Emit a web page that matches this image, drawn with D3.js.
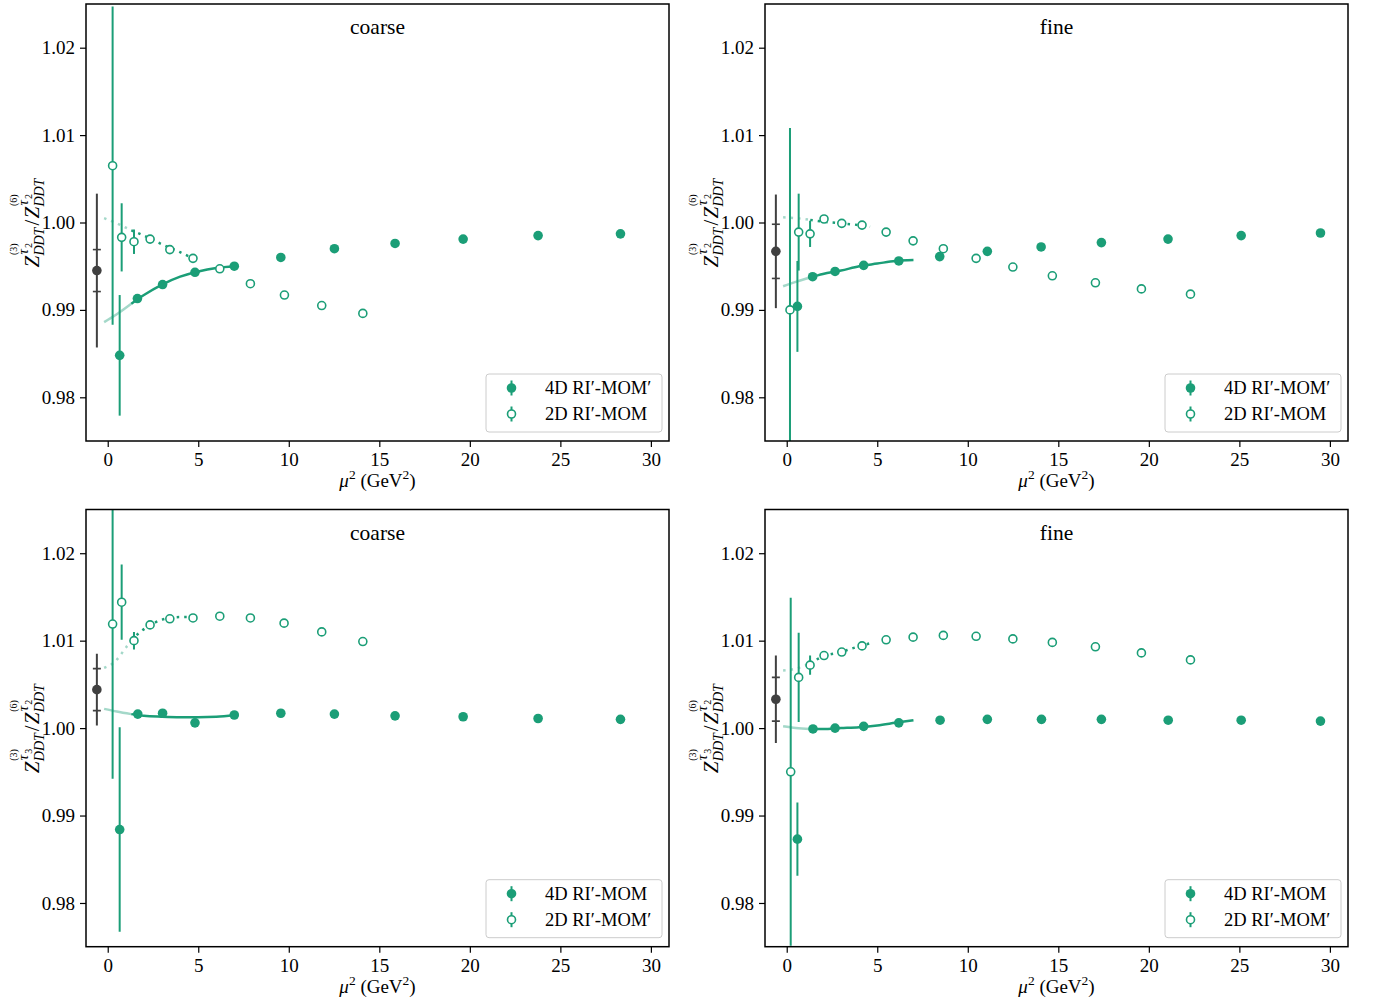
<!DOCTYPE html>
<html>
<head>
<meta charset="utf-8">
<script src="https://cdn.jsdelivr.net/npm/d3@7"></script>
<style>
  body { margin: 0; background: #fff; }
  text { font-family: "Liberation Serif", "Times New Roman", serif; fill: #000; }
</style>
</head>
<body>
<svg id="fig" width="1377" height="1005"></svg>
<script>
// ---- data ----
const xTicks = [0, 5, 10, 15, 20, 25, 30];
const yTicks = [0.98, 0.99, 1.00, 1.01, 1.02];
const xDomain = [-1.2, 31.0];
const yDomain = [0.975, 1.025];
const fitStart = 1.3; // lower end of the fit window, below it the fit is faded

// points: [mu2, value, error]
const coarseTau2Filled = [[0.66,0.9848,0.0069],[1.64,0.9913,0.0003],[3.03,0.9929,0.0002],[4.82,0.9943,0.0003],[6.99,0.9950,0.0002],[9.56,0.9960,0.0001],[12.52,0.9970,0.0001],[15.87,0.9976,0.0001],[19.63,0.9981,0.0001],[23.77,0.9985,0.0001],[28.32,0.9987,0.0001]];
const coarseTau2Open = [[0.27,1.0065,0.0182],[0.77,0.9983,0.0039],[1.45,0.9978,0.0014],[2.34,0.9981,0.0002],[3.43,0.9969,0.0001],[4.71,0.9959,0.0001],[6.19,0.9947,0.0001],[7.88,0.9930,0.0001],[9.76,0.9917,0.0001],[11.82,0.9905,0.0001],[14.09,0.9896,0.0001]];
const coarseTau2Extrap = [-0.6, 0.9945, 0.0088, 0.0024]; // mu2, value, total err, stat err
const coarseTau2FitFilled = [[-0.2,0.9886],[0.5,0.9895],[1.3,0.9907],[2.0,0.9917],[3.0,0.9929],[4.0,0.9938],[5.0,0.9944],[6.0,0.9948],[7.0,0.9950]];
const coarseTau2FitOpen = [[-0.2,1.0005],[0.5,0.9999],[1.3,0.9991],[2.0,0.9985],[3.0,0.9975],[4.0,0.9966],[4.7,0.9959]];

const fineTau2Filled = [[0.59,0.9904,0.0052],[1.43,0.9938,0.0004],[2.67,0.9944,0.0002],[4.25,0.9951,0.0002],[6.19,0.9956,0.0001],[8.45,0.9961,0.0001],[11.08,0.9967,0.0001],[14.05,0.9972,0.0001],[17.38,0.9977,0.0001],[21.06,0.9981,0.0001],[25.1,0.9985,0.0001],[29.48,0.9988,0.0001]];
const fineTau2Open = [[0.18,0.9900,0.0208],[0.66,0.9989,0.0044],[1.29,0.9987,0.0015],[2.06,1.0004,0.0002],[3.04,0.9999,0.0001],[4.16,0.9997,0.0001],[5.49,0.9989,0.0001],[6.98,0.9979,0.0001],[8.65,0.9970,0.0001],[10.46,0.9959,0.0001],[12.49,0.9949,0.0001],[14.67,0.9939,0.0001],[17.05,0.9931,0.0001],[19.59,0.9924,0.0001],[22.30,0.9918,0.0001]];
const fineTau2Extrap = [-0.6, 0.9967, 0.0065, 0.0031];
const fineTau2FitFilled = [[-0.2,0.9927],[0.5,0.9932],[1.3,0.9937],[2.0,0.9941],[3.0,0.9945],[4.0,0.9950],[5.0,0.9953],[6.0,0.9956],[7.0,0.9957]];
const fineTau2FitOpen = [[-0.2,1.0006],[0.5,1.0005],[1.3,1.0003],[2.0,1.0001],[3.0,0.9999],[4.0,0.9997],[4.6,0.9995]];

const coarseTau3Filled = [[0.66,0.9884,0.0117],[1.66,1.0016,0.0004],[3.03,1.0017,0.0002],[4.82,1.0006,0.0004],[6.99,1.0015,0.0002],[9.56,1.0017,0.0001],[12.52,1.0016,0.0001],[15.87,1.0014,0.0001],[19.63,1.0013,0.0001],[23.77,1.0011,0.0001],[28.32,1.0010,0.0001]];
const coarseTau3Open = [[0.27,1.0119,0.0177],[0.77,1.0144,0.0043],[1.45,1.0100,0.0010],[2.34,1.0118,0.0002],[3.43,1.0125,0.0001],[4.71,1.0126,0.0001],[6.19,1.0128,0.0001],[7.88,1.0126,0.0001],[9.74,1.0120,0.0001],[11.82,1.0110,0.0001],[14.09,1.0099,0.0001]];
const coarseTau3Extrap = [-0.6, 1.0044, 0.0041, 0.0024];
const coarseTau3FitFilled = [[-0.2,1.0022],[0.5,1.0019],[1.3,1.0016],[2.0,1.0014],[3.0,1.0013],[4.0,1.00125],[5.0,1.00125],[6.0,1.0013],[7.0,1.0015]];
const coarseTau3FitOpen = [[-0.2,1.0069],[0.4,1.0076],[1.0,1.0092],[1.3,1.0100],[1.8,1.0110],[2.3,1.0117],[3.0,1.0124],[4.0,1.0127],[4.7,1.0127]];

const fineTau3Filled = [[0.59,0.9873,0.0042],[1.45,0.9999,0.0004],[2.67,1.0000,0.0002],[4.25,1.0002,0.0002],[6.19,1.0006,0.0001],[8.47,1.0009,0.0001],[11.08,1.0010,0.0001],[14.07,1.0010,0.0001],[17.38,1.0010,0.0001],[21.07,1.0009,0.0001],[25.1,1.0009,0.0001],[29.48,1.0008,0.0001]];
const fineTau3Open = [[0.22,0.9950,0.0199],[0.66,1.0058,0.0051],[1.29,1.0072,0.0011],[2.06,1.0083,0.0002],[3.04,1.0087,0.0002],[4.16,1.0094,0.0001],[5.49,1.0101,0.0001],[6.98,1.0104,0.0001],[8.65,1.0106,0.0001],[10.46,1.0105,0.0001],[12.49,1.0102,0.0001],[14.67,1.0098,0.0001],[17.05,1.0093,0.0001],[19.59,1.0086,0.0001],[22.30,1.0078,0.0001]];
const fineTau3Extrap = [-0.6, 1.0033, 0.0050, 0.0025];
const fineTau3FitFilled = [[-0.2,1.0002],[0.5,1.0000],[1.3,0.9999],[2.0,0.9999],[3.0,1.0000],[4.0,1.0001],[5.0,1.0003],[6.0,1.0006],[7.0,1.0009]];
const fineTau3FitOpen = [[-0.2,1.0066],[0.5,1.0068],[1.3,1.0074],[2.0,1.0082],[3.0,1.0087],[3.6,1.0091],[4.6,1.0097]];

const legendTau2 = ['4D RI\u2032-MOM\u2032', '2D RI\u2032-MOM'];
const legendTau3 = ['4D RI\u2032-MOM', '2D RI\u2032-MOM\u2032'];

// ---- layout ----
const green = '#1b9e77';
const grey = '#404040';
const cols = [[86, 669], [765, 1348]];
const rows = [[4, 441], [509.5, 946.7]];

const panels = [
  {c: 0, r: 0, title: 'coarse', tau: '2', filled: coarseTau2Filled, open: coarseTau2Open, extrap: coarseTau2Extrap, fitF: coarseTau2FitFilled, fitO: coarseTau2FitOpen, legend: legendTau2},
  {c: 1, r: 0, title: 'fine',   tau: '2', filled: fineTau2Filled,   open: fineTau2Open,   extrap: fineTau2Extrap,   fitF: fineTau2FitFilled,   fitO: fineTau2FitOpen,   legend: legendTau2},
  {c: 0, r: 1, title: 'coarse', tau: '3', filled: coarseTau3Filled, open: coarseTau3Open, extrap: coarseTau3Extrap, fitF: coarseTau3FitFilled, fitO: coarseTau3FitOpen, legend: legendTau3},
  {c: 1, r: 1, title: 'fine',   tau: '3', filled: fineTau3Filled,   open: fineTau3Open,   extrap: fineTau3Extrap,   fitF: fineTau3FitFilled,   fitO: fineTau3FitOpen,   legend: legendTau3}
];

const svg = d3.select('#fig');

panels.forEach((p, i) => {
  const [x0, x1] = cols[p.c];
  const [y0, y1] = rows[p.r];
  const x = d3.scaleLinear().domain(xDomain).range([x0, x1]);
  const y = d3.scaleLinear().domain(yDomain).range([y1, y0]);

  svg.append('clipPath').attr('id', 'clip' + i)
    .append('rect').attr('x', x0).attr('y', y0).attr('width', x1 - x0).attr('height', y1 - y0);

  const plot = svg.append('g').attr('clip-path', `url(#clip${i})`);

  const line = d3.line().x(d => x(d[0])).y(d => y(d[1])).curve(d3.curveMonotoneX);

  // fits: faded part below fitStart, full part above
  const drawFit = (pts, dash) => {
    const lo = pts.filter(d => d[0] <= fitStart);
    const hi = pts.filter(d => d[0] >= fitStart);
    plot.append('path').datum(lo).attr('d', line)
      .attr('fill', 'none').attr('stroke', green).attr('stroke-opacity', 0.4)
      .attr('stroke-width', 2.5).attr('stroke-dasharray', dash);
    plot.append('path').datum(hi).attr('d', line)
      .attr('fill', 'none').attr('stroke', green)
      .attr('stroke-width', 2.5).attr('stroke-dasharray', dash);
  };
  drawFit(p.fitF, null);
  drawFit(p.fitO, '2.5,5');

  // extrapolated point
  const [ex, ev, et, es] = p.extrap;
  plot.append('line').attr('x1', x(ex)).attr('x2', x(ex)).attr('y1', y(ev - et)).attr('y2', y(ev + et))
    .attr('stroke', grey).attr('stroke-width', 2);
  [ev - es, ev + es].forEach(v => {
    plot.append('line').attr('x1', x(ex) - 4).attr('x2', x(ex) + 4).attr('y1', y(v)).attr('y2', y(v))
      .attr('stroke', grey).attr('stroke-width', 1.6);
  });
  plot.append('circle').attr('cx', x(ex)).attr('cy', y(ev)).attr('r', 4.8).attr('fill', grey);

  // error bars + markers
  const drawSeries = (pts, open) => {
    plot.selectAll(null).data(pts).enter().append('line')
      .attr('x1', d => x(d[0])).attr('x2', d => x(d[0]))
      .attr('y1', d => y(d[1] - d[2])).attr('y2', d => y(d[1] + d[2]))
      .attr('stroke', green).attr('stroke-width', 2);
    plot.selectAll(null).data(pts).enter().append('circle')
      .attr('cx', d => x(d[0])).attr('cy', d => y(d[1]))
      .attr('r', open ? 4 : 4.8)
      .attr('fill', open ? '#fff' : green)
      .attr('stroke', open ? green : 'none').attr('stroke-width', 1.6);
  };
  drawSeries(p.open, true);
  drawSeries(p.filled, false);

  // axes
  svg.append('g').attr('transform', `translate(0,${y1})`)
    .call(d3.axisBottom(x).tickValues(xTicks).tickFormat(d3.format('d')).tickSize(6).tickPadding(6))
    .call(g => g.select('.domain').remove())
    .call(g => g.selectAll('line').attr('stroke-width', 1.2))
    .call(g => g.selectAll('text').attr('font-size', 19).attr('font-family', '"Liberation Serif", serif'));
  svg.append('g').attr('transform', `translate(${x0},0)`)
    .call(d3.axisLeft(y).tickValues(yTicks).tickFormat(d3.format('.2f')).tickSize(6).tickPadding(5))
    .call(g => g.select('.domain').remove())
    .call(g => g.selectAll('line').attr('stroke-width', 1.2))
    .call(g => g.selectAll('text').attr('font-size', 19).attr('font-family', '"Liberation Serif", serif'));

  svg.append('rect').attr('x', x0).attr('y', y0).attr('width', x1 - x0).attr('height', y1 - y0)
    .attr('fill', 'none').attr('stroke', '#000').attr('stroke-width', 1.5);

  // title
  svg.append('text').attr('x', (x0 + x1) / 2).attr('y', y0 + 30).attr('text-anchor', 'middle')
    .attr('font-size', 21.5).text(p.title);

  // x label
  const xl = svg.append('text').attr('x', (x0 + x1) / 2).attr('y', y1 + 46).attr('text-anchor', 'middle')
    .attr('font-size', 19);
  xl.append('tspan').attr('font-style', 'italic').text('\u03bc');
  xl.append('tspan').attr('font-size', 13.5).attr('dy', -8).text('2');
  xl.append('tspan').attr('dy', 8).text(' (GeV');
  xl.append('tspan').attr('font-size', 13.5).attr('dy', -8).text('2');
  xl.append('tspan').attr('dy', 8).text(')');

  // y label
  const lab = svg.append('g');
  const inner = lab.append('g');
  const parts = [
    {t: 'Z', x: 0, y: 0, s: 21, it: true},
    {t: 'DDT', x: 12, y: 4.5, s: 14, it: true},
    {t: '\u03c4', x: 13, y: -11, s: 15, it: true},
    {t: p.tau, x: 19.5, y: -7.5, s: 10},
    {t: '(3)', x: 12.5, y: -22, s: 10},
    {t: '/', x: 42, y: 0, s: 21},
    {t: 'Z', x: 49, y: 0, s: 21, it: true},
    {t: 'DDT', x: 61, y: 4.5, s: 14, it: true},
    {t: '\u03c4', x: 62, y: -11, s: 15, it: true},
    {t: '2', x: 68.5, y: -7.5, s: 10},
    {t: '(6)', x: 61.5, y: -22, s: 10}
  ];
  parts.forEach(d => {
    inner.append('text').attr('x', d.x).attr('y', d.y).attr('font-size', d.s)
      .attr('font-style', d.it ? 'italic' : 'normal').text(d.t);
  });
  const w = inner.node().getBBox().width;
  inner.attr('transform', `translate(${-w / 2},0)`);
  lab.attr('transform', `translate(${x0 - 47},${(y0 + y1) / 2}) rotate(-90)`);

  // legend
  const lx = x1 - 183, ly = y1 - 67;
  const leg = svg.append('g');
  leg.append('rect').attr('x', lx).attr('y', ly).attr('width', 176).attr('height', 58).attr('rx', 3)
    .attr('fill', '#fff').attr('fill-opacity', 0.8).attr('stroke', '#cccccc').attr('stroke-width', 1);
  p.legend.forEach((t, k) => {
    const cy = ly + 14 + k * 26;
    const open = k === 1;
    leg.append('line').attr('x1', lx + 25.5).attr('x2', lx + 25.5).attr('y1', cy - 7.5).attr('y2', cy + 7.5)
      .attr('stroke', green).attr('stroke-width', 2);
    leg.append('circle').attr('cx', lx + 25.5).attr('cy', cy).attr('r', open ? 4 : 4.8)
      .attr('fill', open ? '#fff' : green).attr('stroke', open ? green : 'none').attr('stroke-width', 1.6);
    leg.append('text').attr('x', lx + 59).attr('y', cy + 6).attr('font-size', 18.5).text(t);
  });
});
</script>
</body>
</html>
